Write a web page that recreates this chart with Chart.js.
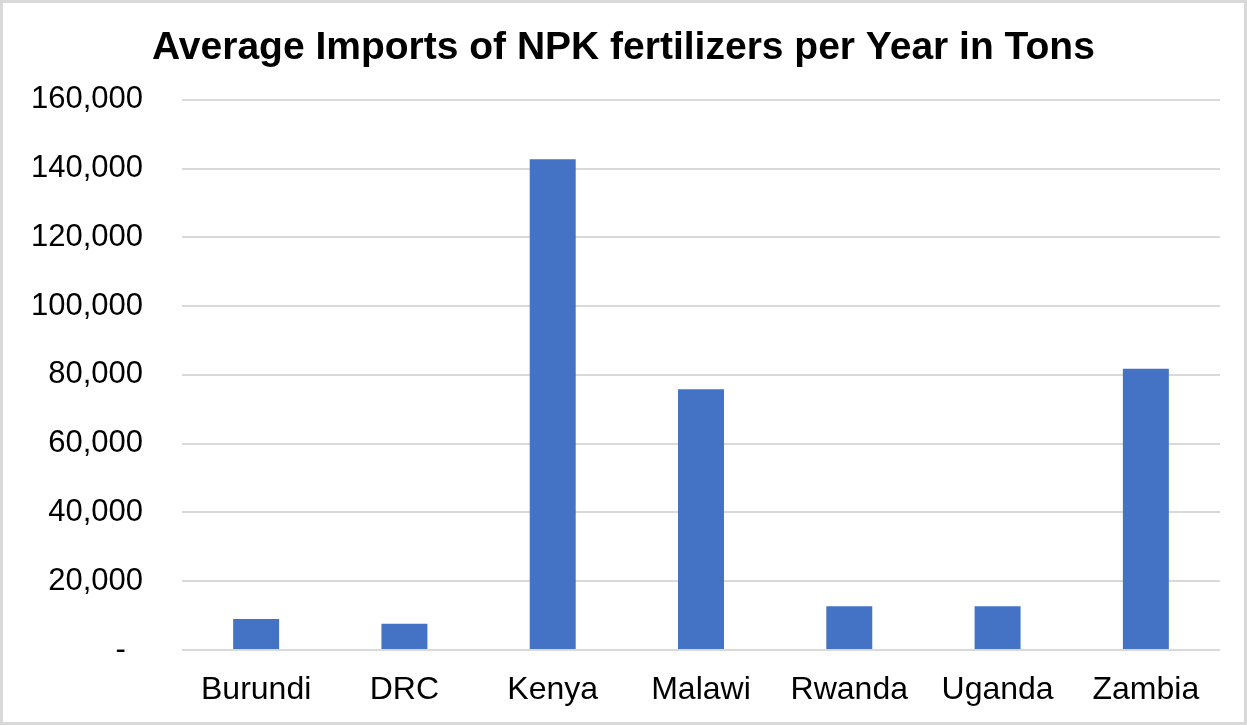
<!DOCTYPE html>
<html>
<head>
<meta charset="utf-8">
<script src="https://cdn.jsdelivr.net/npm/chart.js@4.4.0/dist/chart.umd.min.js"></script>
<style>
  html, body { margin: 0; padding: 0; background: #fff; }
  #wrap { width: 1247px; height: 725px; }
</style>
</head>
<body>
<div id="wrap"><canvas id="chart" width="1247" height="725"></canvas></div>
<script>
// average NPK imports per year
const COUNTRIES = ['Burundi', 'DRC', 'Kenya', 'Malawi', 'Rwanda', 'Uganda', 'Zambia']
const IMPORTS_TONS = [9000, 7600, 142700, 75800, 12700, 12700, 81800]
const Y_TICKS = [0, 20000, 40000, 60000, 80000, 100000, 120000, 140000, 160000]

const FONT = 'Helvetica, "Liberation Sans", Arial, sans-serif'

// excel accounting style: zero shows as a dash
const fmtTick = v => (v === 0 ? '-  ' : v.toLocaleString('en-US'))

// light grey frame round the whole picture
const framePlugin = {
  id: 'frame',
  beforeDraw: chart => {
    const { ctx, width, height } = chart
    ctx.save()
    ctx.fillStyle = '#fff'
    ctx.fillRect(0, 0, width, height)
    ctx.strokeStyle = '#d9d9d9'
    ctx.lineWidth = 3
    ctx.strokeRect(1.5, 1.5, width - 3, height - 3)
    ctx.restore()
  },
}

const chartConfig = {
  type: 'bar',
  data: {
    labels: COUNTRIES,
    datasets: [
      {
        data: IMPORTS_TONS,
        backgroundColor: '#4472c4',
        borderWidth: 0,
        categoryPercentage: 1,
        barPercentage: 0.31,
      },
    ],
  },
  options: {
    responsive: false,
    animation: false,
    // equal side padding keeps the title centred on the canvas
    layout: { padding: { left: 27, right: 27, top: 0, bottom: 0 } },
    plugins: {
      legend: { display: false },
      tooltip: { enabled: false },
      title: {
        display: true,
        text: 'Average Imports of NPK fertilizers per Year in Tons',
        color: '#000',
        font: { family: FONT, size: 39, weight: 'bold', lineHeight: 1.2 },
        padding: { top: 25, bottom: 28 },
      },
    },
    scales: {
      x: {
        grid: { display: false, drawTicks: false },
        border: { display: false },
        ticks: {
          color: '#000',
          font: { family: FONT, size: 32 },
          padding: 21,
          maxRotation: 0,
        },
        afterFit: s => { s.height = 75 },
      },
      y: {
        min: 0,
        max: 160000,
        afterBuildTicks: s => { s.ticks = Y_TICKS.map(v => ({ value: v })) },
        grid: { color: '#d9d9d9', lineWidth: 2, drawTicks: false },
        border: { display: false },
        ticks: {
          color: '#000',
          font: { family: FONT, size: 31 },
          padding: 39,
          callback: fmtTick,
        },
        afterFit: s => { s.width = 155 },
      },
    },
  },
  plugins: [framePlugin],
}

new Chart(document.querySelector('#chart').getContext('2d'), chartConfig)
</script>
</body>
</html>
